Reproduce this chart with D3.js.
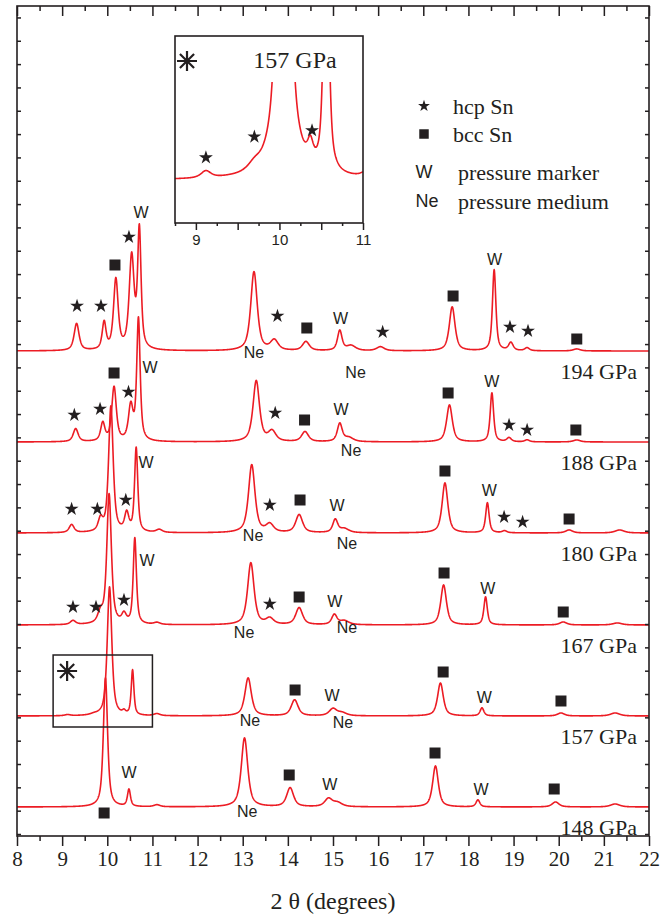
<!DOCTYPE html>
<html lang="en">
<head>
<meta charset="UTF-8">
<title>Sn diffraction patterns</title>
<script src="https://d3js.org/d3.v7.min.js"></script>
<style>
  body { margin: 0; background: #fff; }
  svg { display: block; }
  .serif { font-family: "Liberation Serif", "Times New Roman", serif; fill: #231f20; }
  .sans { font-family: "Liberation Sans", Arial, sans-serif; fill: #231f20; }
</style>
</head>
<body>
<div id="chart"></div>
<script>
// patterns from bottom to top
const pressures = ["148 GPa", "157 GPa", "167 GPa", "180 GPa", "188 GPa", "194 GPa"];
const offsets = [0, 91, 182, 274, 365, 456];

// peaks: [2theta, height, half width]
const peaks148 = [[9.96, 129, 0.055], [10.48, 17, 0.04], [11.1, 2, 0.08], [13.04, 69, 0.085],
  [14.05, 19, 0.09], [14.9, 8, 0.1], [15.1, 4, 0.12], [17.27, 41, 0.075], [18.21, 7, 0.05],
  [19.93, 5, 0.09], [21.25, 3, 0.12]];
const peaks157 = [[9.12, 1.1, 0.07], [9.7, 1, 0.09], [10.05, 129, 0.06], [10.37, 3, 0.04],
  [10.56, 45, 0.035], [11.1, 2, 0.08], [13.12, 38, 0.085], [14.15, 16, 0.09],
  [15.0, 7, 0.1], [15.2, 3, 0.12], [17.38, 33, 0.075], [18.3, 8, 0.05], [20.05, 3, 0.09],
  [21.25, 3, 0.12]];
const peaks167 = [[9.24, 4, 0.07], [9.85, 10, 0.07], [10.04, 130, 0.06], [10.37, 9, 0.06],
  [10.61, 86, 0.042], [11.1, 2, 0.08], [13.18, 62, 0.085], [13.6, 6, 0.1], [14.25, 17, 0.09],
  [15.03, 10, 0.07], [15.25, 4, 0.12], [17.45, 40, 0.075], [18.38, 28, 0.045], [20.1, 3, 0.09],
  [21.3, 2, 0.12]];
const peaks180 = [[9.21, 8, 0.065], [9.85, 12, 0.06], [10.08, 126, 0.06], [10.43, 18, 0.055],
  [10.64, 84, 0.042], [11.15, 3, 0.08], [13.2, 68, 0.085], [13.6, 8, 0.1], [14.25, 18, 0.09],
  [15.05, 13, 0.065], [15.25, 4, 0.12], [17.48, 50, 0.075], [18.42, 30, 0.045], [18.8, 2, 0.06],
  [20.23, 3, 0.09], [21.35, 3, 0.12]];
const peaks188 = [[9.3, 13, 0.065], [9.9, 18, 0.055], [10.15, 54, 0.06], [10.52, 34, 0.06],
  [10.69, 122, 0.045], [13.3, 61, 0.085], [13.65, 10, 0.1], [14.38, 10, 0.09], [15.15, 18, 0.065],
  [15.35, 4, 0.12], [17.58, 37, 0.075], [18.52, 49, 0.045], [18.9, 4, 0.06], [19.3, 2, 0.06],
  [20.4, 2, 0.09]];
const peaks194 = [[9.32, 27, 0.065], [9.93, 27, 0.05], [10.19, 70, 0.06], [10.54, 92, 0.065],
  [10.71, 118, 0.045], [13.25, 79, 0.085], [13.7, 10, 0.1], [14.4, 9, 0.09], [15.15, 20, 0.06],
  [15.4, 5, 0.12], [16.05, 4, 0.1], [17.64, 44, 0.075], [18.57, 81, 0.045], [18.94, 8, 0.06],
  [19.3, 3, 0.06], [20.4, 2, 0.09]];
const allPeaks = [peaks148, peaks157, peaks167, peaks180, peaks188, peaks194];

// phase markers: [kind, 2theta, height above the pattern]
const marks148 = [["sq", 9.93, -6], ["W", 10.48, 35], ["Ne", 13.1, -4], ["sq", 14.03, 32],
  ["W", 14.93, 23], ["sq", 17.26, 54], ["W", 18.28, 18], ["sq", 19.9, 18]];
const marks157 = [["ast", 9.11, 45], ["sq", 14.16, 26], ["W", 14.98, 21], ["Ne", 13.16, -4],
  ["Ne", 15.22, -6], ["sq", 17.44, 44], ["W", 18.35, 19], ["sq", 20.05, 15]];
const marks167 = [["star", 9.24, 18], ["star", 9.75, 18], ["star", 10.37, 25], ["W", 10.88, 65],
  ["star", 13.6, 21], ["sq", 14.25, 28], ["W", 15.04, 24], ["Ne", 13.03, -7], ["Ne", 15.31, -2],
  ["sq", 17.46, 52], ["W", 18.43, 37], ["sq", 20.1, 13]];
const marks180 = [["star", 9.21, 24], ["star", 9.78, 24], ["star", 10.41, 33], ["W", 10.86, 71],
  ["star", 13.6, 28], ["sq", 14.27, 33], ["W", 15.09, 28], ["Ne", 13.23, -2], ["Ne", 15.31, -10],
  ["sq", 17.48, 62], ["W", 18.46, 43], ["star", 18.79, 16], ["star", 19.2, 11], ["sq", 20.23, 14]];
const marks188 = [["star", 9.27, 27], ["star", 9.84, 33], ["sq", 10.15, 69], ["star", 10.47, 50],
  ["W", 10.95, 75], ["star", 13.72, 29], ["sq", 14.37, 22], ["W", 15.18, 33], ["Ne", 15.4, -8],
  ["sq", 17.55, 49], ["W", 18.52, 61], ["star", 18.9, 17], ["star", 19.3, 12], ["sq", 20.38, 12]];
const marks194 = [["star", 9.33, 45], ["star", 9.86, 45], ["sq", 10.17, 86], ["star", 10.48, 114],
  ["W", 10.75, 139], ["star", 13.77, 35], ["sq", 14.42, 23], ["W", 15.17, 33], ["Ne", 13.25, -1],
  ["Ne", 15.5, -21], ["star", 16.1, 19], ["sq", 17.66, 55], ["W", 18.58, 92], ["star", 18.92, 24],
  ["star", 19.32, 20], ["sq", 20.4, 12]];
const allMarks = [marks148, marks157, marks167, marks180, marks188, marks194];

const xTicks = d3.range(8, 23, 1);
const insetTicks = [9, 10, 11];
const insetStars = [[9.12, 3.6], [9.7, 6.9], [10.39, 7.9]];
const legendItems = [["star", "hcp Sn"], ["sq", "bcc Sn"], ["W", "pressure marker"], ["Ne", "pressure medium"]];
const zoomBox = { x0: 8.8, x1: 11.0, y0: -11, y1: 61 };  // around 157 GPa, relative to its baseline

const eta = 0.7;
function profile(peaks, t) {
  let s = 0;
  peaks.forEach(p => {
    const u = ((t - p[0]) / p[2]) ** 2;
    s += p[1] * (eta / (1 + u) + (1 - eta) * Math.exp(-Math.LN2 * u));
  });
  return s;
}

const W = 669, H = 915;
const svg = d3.select("#chart").append("svg").attr("width", W).attr("height", H);

const x = d3.scaleLinear().domain([8, 22]).range([17, 649]);
const y = d3.scaleLinear().domain([-29, 801]).range([836, 6]);

svg.append("defs").append("clipPath").attr("id", "plotclip")
  .append("rect").attr("x", 17).attr("y", 6).attr("width", 632).attr("height", 830);

const red = "#ec1c24";
const grid = d3.range(8, 22.0001, 0.005);

const line = d3.line().x(d => x(d[0])).y(d => y(d[1]));
const curves = svg.append("g").attr("clip-path", "url(#plotclip)");
allPeaks.forEach((pk, i) => {
  const pts = grid.map(t => [t, offsets[i] + profile(pk, t)]);
  curves.append("path").datum(pts)
    .attr("fill", "none").attr("stroke", red).attr("stroke-width", 1.6)
    .attr("stroke-linejoin", "round").attr("d", line);
});

// star / square / asterisk
const asterisk = {
  draw(ctx, size) {
    const r = Math.sqrt(size) / 2;
    for (let k = 0; k < 4; k++) {
      const a = k * Math.PI / 4;
      ctx.moveTo(-r * Math.cos(a), -r * Math.sin(a));
      ctx.lineTo(r * Math.cos(a), r * Math.sin(a));
    }
  }
};

function drawMark(g, kind, px, py, big) {
  if (kind === "star") {
    g.append("path").attr("transform", `translate(${px},${py})`)
      .attr("d", d3.symbol(d3.symbolStar, big ? 60 : 44)()).attr("fill", "#231f20");
  } else if (kind === "sq") {
    g.append("path").attr("transform", `translate(${px},${py})`)
      .attr("d", d3.symbol(d3.symbolSquare, big ? 121 : 90)()).attr("fill", "#231f20");
  } else if (kind === "ast") {
    g.append("path").attr("transform", `translate(${px},${py})`)
      .attr("d", d3.symbol(asterisk, 400)()).attr("stroke", "#231f20").attr("stroke-width", 2.2)
      .attr("fill", "none");
  } else {
    g.append("text").attr("class", "sans").attr("x", px).attr("y", py)
      .attr("text-anchor", "middle").attr("dominant-baseline", "central")
      .attr("font-size", big ? 16 : 18).text(kind);
  }
}

const markG = svg.append("g");
allMarks.forEach((ms, i) => {
  ms.forEach(m => drawMark(markG, m[0], x(m[1]), y(offsets[i] + m[2]), true));
});

// pressure labels
pressures.forEach((p, i) => {
  svg.append("text").attr("class", "serif").attr("x", 637).attr("y", y(offsets[i]) + 20)
    .attr("text-anchor", "end").attr("dominant-baseline", "central")
    .attr("font-size", 22).text(p);
});

// box marking the zoomed region
svg.append("rect")
  .attr("x", x(zoomBox.x0)).attr("y", y(offsets[1] + zoomBox.y1))
  .attr("width", x(zoomBox.x1) - x(zoomBox.x0))
  .attr("height", y(offsets[1] + zoomBox.y0) - y(offsets[1] + zoomBox.y1))
  .attr("fill", "none").attr("stroke", "#231f20").attr("stroke-width", 1.5);

// axes
const axisStyle = g => {
  g.select(".domain").remove();
  g.selectAll(".tick line").attr("stroke", "#231f20").attr("stroke-width", 1.5);
};
svg.append("g").attr("transform", "translate(0,836)")
  .call(d3.axisBottom(x).tickValues(xTicks).tickSize(10).tickPadding(5).tickFormat(d3.format("d")))
  .call(axisStyle)
  .call(g => g.selectAll("text").attr("class", "serif").attr("font-size", 21));
svg.append("g").attr("transform", "translate(0,836)")
  .call(d3.axisBottom(x).tickValues(xTicks.slice(0, -1).map(d => d + 0.5)).tickSize(5).tickFormat(""))
  .call(axisStyle);
svg.append("g").attr("transform", "translate(0,6)")
  .call(d3.axisTop(x).tickValues(xTicks).tickSize(-10).tickFormat(""))
  .call(axisStyle);
svg.append("g").attr("transform", "translate(0,6)")
  .call(d3.axisTop(x).tickValues(xTicks.slice(0, -1).map(d => d + 0.5)).tickSize(-5).tickFormat(""))
  .call(axisStyle);
const yTicks = d3.range(0, 36).map(k => -27 + 23.33 * k);
svg.append("g").attr("transform", "translate(17,0)")
  .call(d3.axisLeft(y).tickValues(yTicks).tickSize(-4).tickFormat(""))
  .call(axisStyle);
svg.append("g").attr("transform", "translate(649,0)")
  .call(d3.axisRight(y).tickValues(yTicks).tickSize(-4).tickFormat(""))
  .call(axisStyle);
svg.append("rect").attr("x", 17).attr("y", 6).attr("width", 632).attr("height", 830)
  .attr("fill", "none").attr("stroke", "#231f20").attr("stroke-width", 1.6);

svg.append("text").attr("class", "serif").attr("x", 333).attr("y", 901)
  .attr("text-anchor", "middle").attr("dominant-baseline", "central")
  .attr("font-size", 24).text("2 θ (degrees)");

// legend
legendItems.forEach((it, i) => {
  const ly = [106, 134, 172, 201][i];
  drawMark(svg, it[0], it[0] === "Ne" ? 427 : 424, ly, false);
  svg.append("text").attr("class", "serif").attr("x", i < 2 ? 453 : 458).attr("y", ly)
    .attr("dominant-baseline", "central").attr("font-size", 22).text(it[1]);
});

// inset: 157 GPa around the strongest peaks
const ix = d3.scaleLinear().domain([8.75, 11]).range([175, 363]);
const iy = d3.scaleLinear().domain([-6.8, 22.9]).range([223, 36]);
svg.select("defs").append("clipPath").attr("id", "insetclip")
  .append("rect").attr("x", 175).attr("y", 82).attr("width", 188).attr("height", 141);
const igrid = d3.range(8.75, 11.0001, 0.004);
svg.append("path").datum(igrid.map(t => [t, profile(peaks157, t)]))
  .attr("clip-path", "url(#insetclip)")
  .attr("fill", "none").attr("stroke", red).attr("stroke-width", 1.6)
  .attr("d", d3.line().x(d => ix(d[0])).y(d => iy(d[1])));
insetStars.forEach(s => drawMark(svg, "star", ix(s[0]), iy(s[1]), true));

svg.append("g").attr("transform", "translate(0,223)")
  .call(d3.axisBottom(ix).tickValues(d3.range(9, 11.01, 0.5)).tickSize(7).tickPadding(4)
    .tickFormat(d => insetTicks.includes(d) ? d : ""))
  .call(axisStyle)
  .call(g => g.selectAll("text").attr("class", "sans").attr("font-size", 15));
svg.append("g").attr("transform", "translate(0,223)")
  .call(d3.axisBottom(ix).tickValues(d3.range(8.75, 11, 0.5)).tickSize(3).tickFormat(""))
  .call(axisStyle);
svg.append("rect").attr("x", 175).attr("y", 36).attr("width", 188).attr("height", 187)
  .attr("fill", "none").attr("stroke", "#231f20").attr("stroke-width", 1.6);
drawMark(svg, "ast", 187, 61, true);
svg.append("text").attr("class", "serif").attr("x", 295).attr("y", 60)
  .attr("text-anchor", "middle").attr("dominant-baseline", "central")
  .attr("font-size", 24).text("157 GPa");
</script>
</body>
</html>
